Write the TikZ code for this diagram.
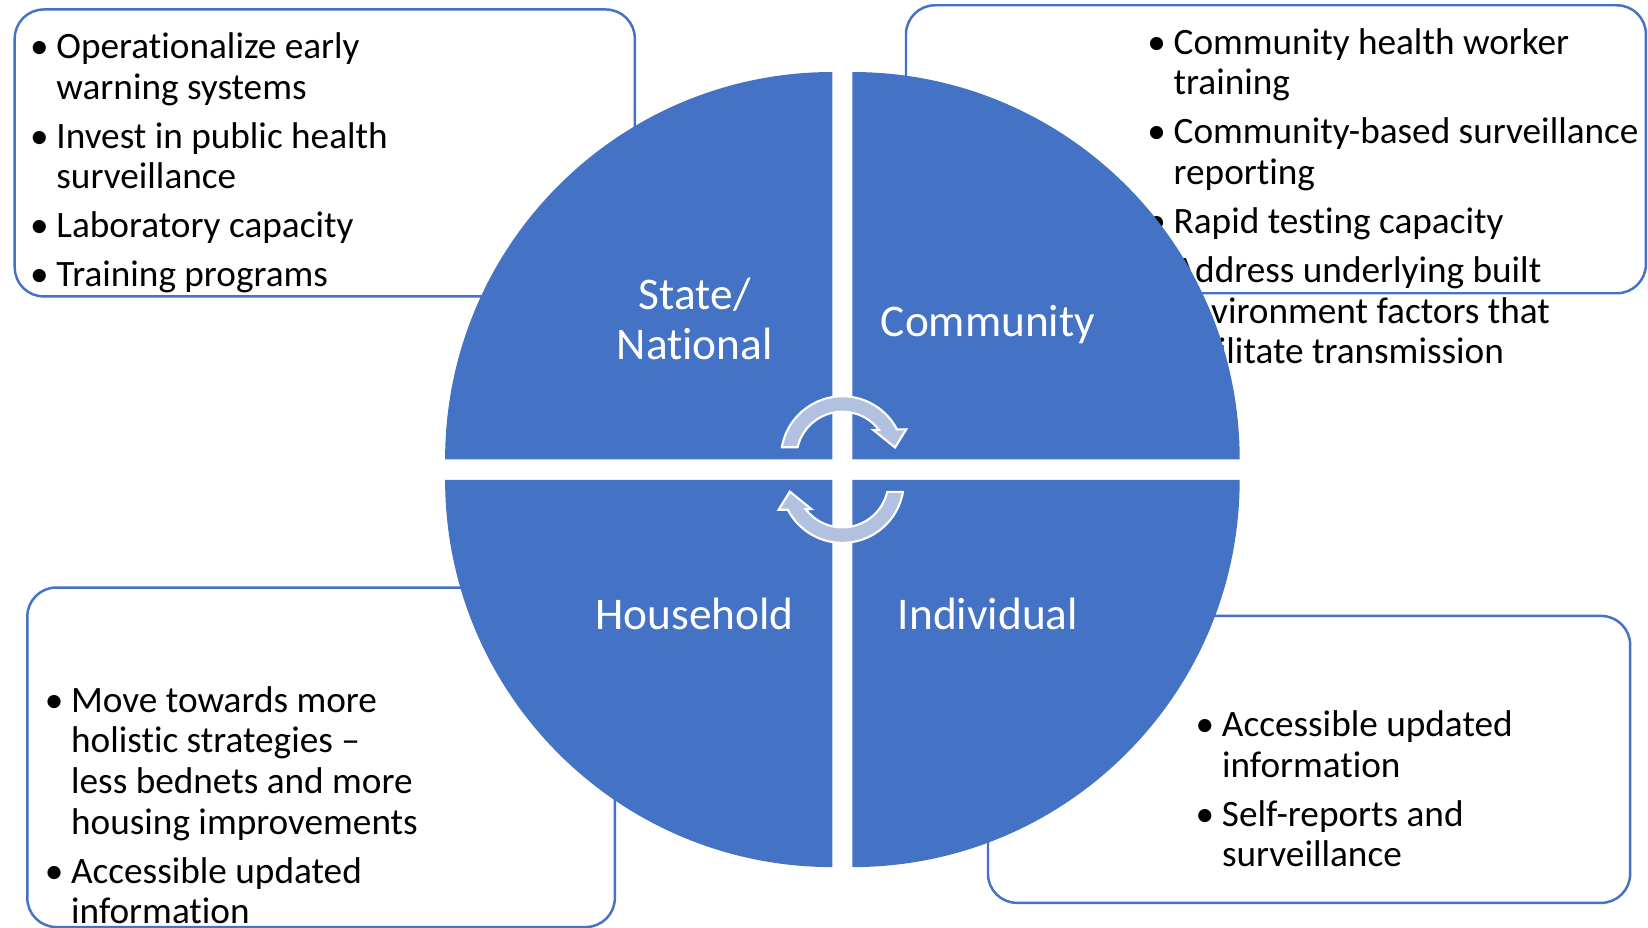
\documentclass[tikz,border=0pt]{standalone}
\usepackage{fontspec}
\setmainfont{Carlito}[Ligatures={TeX,NoCommon}]
\usepackage{xcolor}
\usepackage{tikz}

\definecolor{quadblue}{HTML}{4472C4}
\definecolor{cyclefill}{HTML}{B3C1E1}

\newcommand{\bul}{\makebox[0.263cm][l]{\textbullet}}
\newcommand{\ind}{\hspace*{0.263cm}}

\tikzset{
  listbox/.style={draw=quadblue, line width=0.7pt, fill=white, rounded corners=0.29cm},
  listtext/.style={anchor=north west, inner sep=0pt, align=left, font=\fontsize{10.6}{11.55}\selectfont},
  quad/.style={fill=quadblue},
  quadlabel/.style={text=white, inner sep=0pt, align=center, font=\fontsize{12.9}{14.2}\selectfont},
  cyclearrow/.style={fill=cyclefill, draw=white, line width=0.6pt}
}

\begin{document}
\begin{tikzpicture}[x=0.01051cm, y=-0.01051cm]
    \useasboundingbox (0,0) rectangle (1568,882);

    % boxes behind the circle
    \draw[listbox] (14,9) rectangle (604,282);
    \draw[listbox] (862,5) rectangle (1566,279);
    \draw[listbox] (26,559) rectangle (585,882);
    \draw[listbox] (940,586) rectangle (1551,859);

    \node[listtext] (stateList) at (28,28) {\strut\bul Operationalize early\\\ind warning systems\\[0.084cm]\bul Invest in public health\\\ind surveillance\\[0.084cm]\bul Laboratory capacity\\[0.084cm]\bul Training programs};
    \node[listtext] (communityList) at (1091,24) {\strut\bul Community health worker\\\ind training\\[0.084cm]\bul Community-based surveillance\\\ind reporting\\[0.084cm]\bul Rapid testing capacity\\[0.084cm]\bul Address underlying built\\\ind environment factors that\\\ind facilitate transmission};
    \node[listtext] (householdList) at (42,650) {\strut\bul Move towards more\\\ind holistic strategies –\\\ind less bednets and more\\\ind housing improvements\\[0.084cm]\bul Accessible updated\\\ind information};
    \node[listtext] (individualList) at (1137,673) {\strut\bul Accessible updated\\\ind information\\[0.084cm]\bul Self-reports and\\\ind surveillance};

    % four quadrants
    \foreach \cx/\cy/\a in {792/437/180, 811/437/270, 811/456.5/0, 792/456.5/90}
        \fill[quad] (\cx,\cy) -- ++(\a:368.5) arc[start angle=\a, delta angle=90, radius=368.5] -- cycle;

    \node[quadlabel, anchor=north] (state) at (661,261) {\strut State/\\National};
    \node[quadlabel, anchor=base] (community) at (940,320) {Community};
    \node[quadlabel, anchor=base] (household) at (661,599) {Household};
    \node[quadlabel, anchor=base] (individual) at (940,599) {Individual};

    % cycle arrows
    \foreach \cy/\rot in {435.5/0, 458/180}
        \filldraw[cyclearrow, shift={(801.5,\cy)}, rotate=\rot]
            (-57.6,-10) arc[start angle=189.85, end angle=332.6, radius=58.5]
            -- (336:66.5) -- (349:51) -- (318:39.5) -- (322.8:43.8)
            arc[start angle=322.8, end angle=193.2, radius=43.8] -- cycle;
\end{tikzpicture}
\end{document}
